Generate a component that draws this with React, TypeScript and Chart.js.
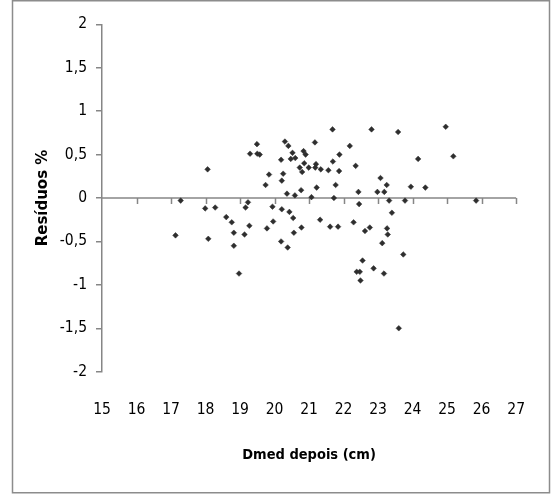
import React, { useEffect, useRef } from "react";
import { Chart, registerables } from "chart.js";

Chart.register(...registerables);

const xValues: number[] = [
  17.13, 17.28, 18.06, 17.99, 18.08, 18.28, 18.6, 18.76, 18.82, 18.82,
  18.97, 19.13, 19.16, 19.23, 19.27, 19.29, 19.49, 19.5, 19.57, 19.74,
  19.78, 19.84, 19.94, 19.96, 20.19, 20.21, 20.21, 20.19, 20.25, 20.3,
  20.36, 20.38, 20.4, 20.43, 20.47, 20.52, 20.54, 20.56, 20.59, 20.6,
  20.73, 20.77, 20.78, 20.8, 20.84, 20.86, 20.9, 20.99, 21.07, 21.17,
  21.18, 21.2, 21.22, 21.32, 21.34, 21.56, 21.61, 21.68, 21.69, 21.72,
  21.77, 21.84, 21.87, 21.88, 22.18, 22.29, 22.35, 22.38, 22.43, 22.45,
  22.47, 22.49, 22.55, 22.62, 22.76, 22.81, 22.87, 22.98, 23.07, 23.12,
  23.17, 23.18, 23.25, 23.26, 23.28, 23.32, 23.4, 23.58, 23.6, 23.73,
  23.78, 23.95, 24.16, 24.37, 24.96, 25.18, 25.84,
];

const yValues: number[] = [
  -0.43, -0.03, 0.33, -0.12, -0.47, -0.11, -0.22, -0.28, -0.4, -0.55,
  -0.87, -0.42, -0.11, -0.05, -0.32, 0.51, 0.62, 0.51, 0.5, 0.15,
  -0.35, 0.27, -0.1, -0.27, 0.44, 0.2, -0.13, -0.5, 0.28, 0.65,
  0.05, -0.57, 0.6, -0.16, 0.45, 0.52, -0.23, -0.4, 0.03, 0.46,
  0.35, 0.09, -0.34, 0.3, 0.54, 0.4, 0.5, 0.35, 0.01, 0.64,
  0.35, 0.39, 0.12, -0.25, 0.33, 0.32, -0.33, 0.79, 0.42, 0.0,
  0.15, -0.33, 0.31, 0.5, 0.6, -0.28, 0.37, -0.85, 0.07, -0.07,
  -0.85, -0.95, -0.72, -0.38, -0.34, 0.79, -0.81, 0.07, 0.23, -0.52,
  -0.87, 0.07, 0.15, -0.35, -0.42, -0.03, -0.17, 0.76, -1.5, -0.65,
  -0.03, 0.13, 0.45, 0.12, 0.82, 0.48, -0.03,
];

const xTitle = "Dmed depois (cm)";
const yTitle = "Resíduos %";
const xMin = 15;
const xMax = 27;
const yMin = -2;
const yMax = 2;

const AXIS = "#868686";
const NARROW = "'Liberation Sans Narrow', 'Arial Narrow', 'DejaVu Sans Condensed', sans-serif";

const frame = {
  id: "frame",
  beforeDraw(chart: any) {
    const { ctx } = chart;
    ctx.save();
    ctx.fillStyle = "#fff";
    ctx.fillRect(0, 0, chart.width, chart.height);
    ctx.strokeStyle = "#8c8c8c";
    ctx.lineWidth = 1.5;
    ctx.strokeRect(12.5, 0.75, 537, 492);
    ctx.restore();
  },
};

const zeroAxis = {
  id: "zeroAxis",
  beforeDatasetsDraw(chart: any) {
    const { ctx } = chart;
    const x = chart.scales.x;
    const y = chart.scales.y;
    const y0 = y.getPixelForValue(0);
    ctx.save();
    ctx.strokeStyle = AXIS;
    ctx.lineWidth = 1.5;
    ctx.beginPath();
    ctx.moveTo(x.left, y0);
    ctx.lineTo(x.right, y0);
    x.ticks.forEach((t: any) => {
      if (t.value === xMin) return;
      const px = Math.round(x.getPixelForValue(t.value)) + 0.5;
      ctx.moveTo(px, y0);
      ctx.lineTo(px, y0 + 6);
    });
    ctx.stroke();
    ctx.restore();
  },
};

export default function App() {
  const ref = useRef<HTMLCanvasElement>(null);
  useEffect(() => {
    if (!ref.current) return;
    const data = xValues.map((x, i) => ({ x, y: yValues[i] }));
    const chart = new Chart(ref.current, {
      type: "scatter",
      data: {
        datasets: [
          {
            data,
            pointStyle: "rectRot",
            pointRadius: 2.8,
            pointBackgroundColor: "#2e2e2e",
            pointBorderColor: "#2e2e2e",
            pointBorderWidth: 0.5,
          },
        ],
      },
      options: {
        responsive: false,
        animation: false,
        events: [],
        layout: { padding: { top: 24.3, right: 19, left: 0, bottom: 0 } },
        plugins: {
          legend: { display: false },
          tooltip: { enabled: false },
        },
        scales: {
          x: {
            type: "linear",
            min: xMin,
            max: xMax,
            position: "bottom",
            afterFit: (s: any) => {
              s.height = 123.3;
            },
            grid: { display: false, drawTicks: false },
            border: { display: false },
            ticks: {
              stepSize: 1,
              padding: 29,
              color: "#000",
              font: { family: NARROW, size: 15.5 },
            },
            title: {
              display: true,
              text: xTitle,
              color: "#000",
              font: { family: NARROW, size: 14.5, weight: "bold" },
              padding: { top: 0, bottom: 31 },
            },
          },
          y: {
            type: "linear",
            min: yMin,
            max: yMax,
            afterFit: (s: any) => {
              s.width = 102;
            },
            grid: {
              drawOnChartArea: false,
              drawTicks: true,
              tickLength: 6,
              color: AXIS,
              lineWidth: 1.5,
            },
            border: { display: true, color: AXIS, width: 1.5 },
            ticks: {
              stepSize: 0.5,
              padding: 9,
              color: "#000",
              font: { family: NARROW, size: 15.5 },
              callback: (v: any) => String(v).replace(".", ","),
            },
            title: {
              display: true,
              text: yTitle,
              color: "#000",
              font: { family: "'DejaVu Sans', sans-serif", size: 15, weight: "bold" },
              padding: { top: 34, bottom: 0 },
            },
          },
        },
      },
      plugins: [frame, zeroAxis],
    });
    return () => chart.destroy();
  }, []);
  return (
    <div style={{ position: "absolute", left: 0, top: 0, width: 554, height: 495 }}>
      <canvas ref={ref} width={554} height={495} style={{ display: "block" }} />
    </div>
  );
}
